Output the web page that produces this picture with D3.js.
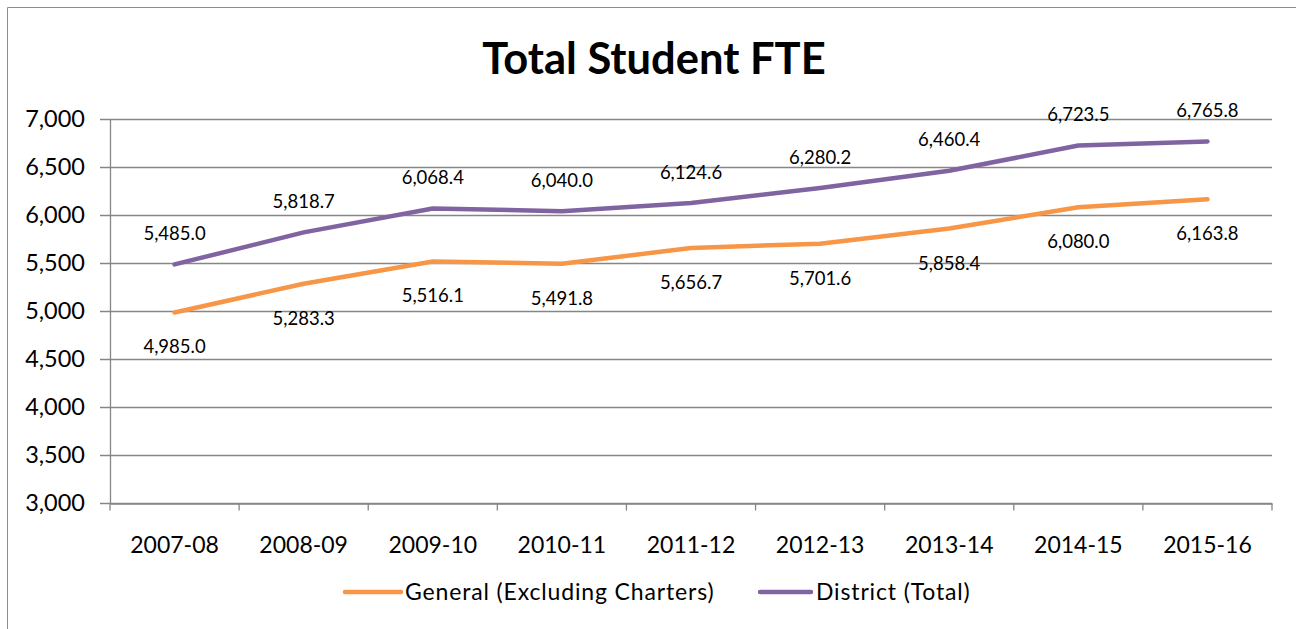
<!DOCTYPE html>
<html><head><meta charset="utf-8">
<script src="https://cdn.jsdelivr.net/npm/d3@7"></script>
<style>
html,body{margin:0;padding:0;background:#fff;}
svg text{font-family:Lato,"Open Sans",sans-serif;fill:#000;}
</style></head>
<body><svg id="c" width="1296" height="629"></svg>
<script>
const categories = ["2007-08","2008-09","2009-10","2010-11","2011-12","2012-13","2013-14","2014-15","2015-16"];
const generalValues = [4985.0, 5283.3, 5516.1, 5491.8, 5656.7, 5701.6, 5858.4, 6080.0, 6163.8];
const districtValues = [5485.0, 5818.7, 6068.4, 6040.0, 6124.6, 6280.2, 6460.4, 6723.5, 6765.8];
const yTicks = [3000, 3500, 4000, 4500, 5000, 5500, 6000, 6500, 7000];
const seriesNames = ["General (Excluding Charters)", "District (Total)"];
const title = "Total Student FTE";

(function(){
const svg = d3.select("#c");
const W = 1296, H = 629;
const pL = 110, pR = 1272, pT = 119, pB = 503;
const grid = "#868686";

svg.append("path").attr("d", `M7.5,${H} V7.5 H${W}`).attr("fill","none").attr("stroke","#8c8c8c").attr("stroke-width",1);

const x = d3.scaleBand().domain(categories).range([pL, pR]);
const y = d3.scaleLinear().domain([3000, 7000]).range([pB, pT]);

svg.append("g").selectAll("line").data(yTicks).join("line")
  .attr("x1", pL - 10).attr("x2", pR)
  .attr("y1", d => Math.round(y(d)) + 0.5).attr("y2", d => Math.round(y(d)) + 0.5)
  .attr("stroke", grid).attr("stroke-width", 1.3);

const yAxis = svg.append("g").attr("transform", `translate(${pL},0)`)
  .call(d3.axisLeft(y).tickValues(yTicks).tickSize(0).tickPadding(25).tickFormat(d3.format(",")));
yAxis.select(".domain").attr("stroke", grid).attr("stroke-width", 1.3);
yAxis.selectAll("text").attr("font-size", 23.5).attr("font-family", "Lato");

const xAxis = svg.append("g").attr("transform", `translate(0,${Math.round(y(3000)) + 0.5})`)
  .call(d3.axisBottom(x).tickSize(0).tickPadding(33));
xAxis.select(".domain").attr("stroke", grid).attr("stroke-width", 1.3);
xAxis.selectAll("text").attr("font-size", 23).attr("font-family", "Lato");
const bounds = categories.map(c => x(c)).concat([x(categories[categories.length-1]) + x.bandwidth()]);
xAxis.append("g").selectAll("line").data(bounds).join("line")
  .attr("x1", d => d).attr("x2", d => d).attr("y1", 0).attr("y2", 7)
  .attr("stroke", grid).attr("stroke-width", 1.3);

const cx = c => x(c) + x.bandwidth() / 2;
const line = d3.line().x((d, i) => cx(categories[i])).y(d => y(d));

const colors = ["#F79646", "#8064A2"];
const allSeries = [generalValues, districtValues];

allSeries.forEach((vals, si) => {
  svg.append("path").datum(vals).attr("d", line)
    .attr("fill", "none").attr("stroke", colors[si]).attr("stroke-width", 4.5)
    .attr("stroke-linejoin", "round").attr("stroke-linecap", "round");
});

svg.append("g").selectAll("text").data(generalValues).join("text")
  .attr("x", (d, i) => cx(categories[i])).attr("y", d => y(d) + 41)
  .attr("text-anchor", "middle").attr("font-size", 18.5)
  .text(d => d3.format(",.1f")(d));
svg.append("g").selectAll("text").data(districtValues).join("text")
  .attr("x", (d, i) => cx(categories[i])).attr("y", d => y(d) - 24.5)
  .attr("text-anchor", "middle").attr("font-size", 18.5)
  .text(d => d3.format(",.1f")(d));

svg.append("text").attr("x", 654).attr("y", 74).attr("text-anchor", "middle")
  .attr("font-size", 43.5).attr("font-weight", "bold").text(title);

const legendItems = [{x0: 345, x1: 401, tx: 405}, {x0: 760, x1: 811, tx: 816}];
legendItems.forEach((it, i) => {
  svg.append("line").attr("x1", it.x0).attr("x2", it.x1).attr("y1", 592).attr("y2", 592)
    .attr("stroke", colors[i]).attr("stroke-width", 4.5).attr("stroke-linecap", "round");
  svg.append("text").attr("x", it.tx).attr("y", 600).attr("font-size", 23)
    .attr("letter-spacing", 0.85).text(seriesNames[i]);
});
})();
</script></body></html>
